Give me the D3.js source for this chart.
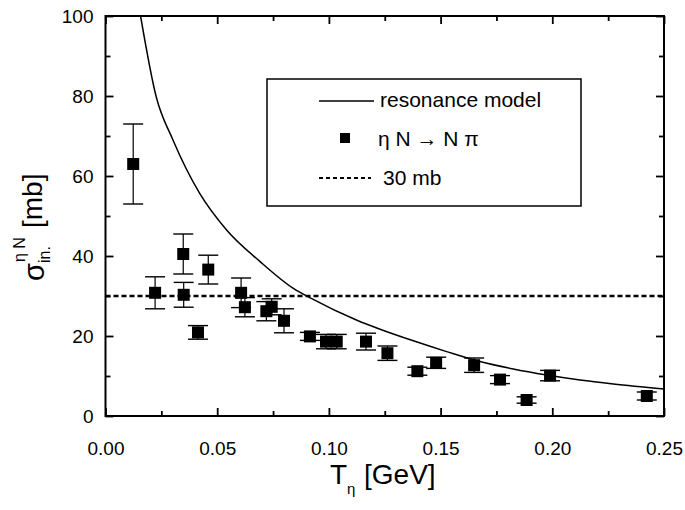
<!DOCTYPE html>
<html>
<head>
<meta charset="utf-8">
<script src="https://cdn.jsdelivr.net/npm/d3@7"></script>
<style>
  body { margin: 0; background: #fff; }
  svg { display: block; font-family: "Liberation Sans", Arial, sans-serif; }
  .axis .domain { display: none; }
  .axis line { stroke: #000; stroke-width: 1.8; }
  .axis text { font-size: 19px; fill: #000; }
</style>
</head>
<body>
<svg id="chart" width="685" height="510"></svg>
<script>
// eta N -> N pi data points (T in GeV, sigma in mb, error in mb)
const tData = [0.0124, 0.0222, 0.0348, 0.0350, 0.0414, 0.0460, 0.0607, 0.0624, 0.0720, 0.0744,
               0.0799, 0.0915, 0.0987, 0.1035, 0.1166, 0.1262, 0.1396, 0.1480, 0.1650, 0.1766,
               0.1885, 0.1990, 0.2423];
const sigmaData = [63.0, 30.8, 40.5, 30.3, 20.9, 36.6, 30.8, 27.2, 26.2, 27.3,
                   23.8, 19.9, 18.6, 18.6, 18.6, 15.7, 11.2, 13.3, 12.7, 9.1,
                   4.0, 10.1, 5.0];
const errData = [10.0, 4.0, 5.0, 3.1, 1.7, 3.6, 3.7, 2.4, 2.4, 2.0,
                 3.0, 1.0, 1.8, 1.8, 2.1, 1.8, 1.0, 1.4, 1.8, 1.0,
                 0.8, 1.3, 1.0];

// resonance model curve
const modelT = [0.0157, 0.0227, 0.0302, 0.0421, 0.0542, 0.0692, 0.0841, 0.0921, 0.1123, 0.1229,
                0.1378, 0.1527, 0.1676, 0.1825, 0.1975, 0.2124, 0.2273, 0.25];
const modelSigma = [100, 79.8, 69, 55.7, 46.5, 38.6, 31.9, 29.4, 24, 21.7,
                    18.8, 16.1, 13.6, 11.75, 10.25, 9, 8, 6.75];

const constLevel = 30;

const xMajor = [0, 0.05, 0.10, 0.15, 0.20, 0.25];
const xMinor = [0.025, 0.075, 0.125, 0.175, 0.225];
const yMajor = [0, 20, 40, 60, 80, 100];
const yMinor = [10, 30, 50, 70, 90];

(function() {
    const svg = d3.select('#chart');
    const pLeft = 105.5, pRight = 664, pTop = 16, pBottom = 416;

    const x = d3.scaleLinear().domain([0, 0.25]).range([pLeft, pRight]);
    const y = d3.scaleLinear().domain([0, 100]).range([pBottom, pTop]);

    // ticks (inward) on all four sides
    function addAxis(axis, tx, ty) {
        return svg.append('g').attr('class', 'axis')
            .attr('transform', 'translate(' + tx + ',' + ty + ')').call(axis);
    }
    addAxis(d3.axisBottom(x).tickValues(xMajor).tickSize(-8).tickPadding(26).tickFormat(d3.format('.2f')), 0, pBottom);
    addAxis(d3.axisBottom(x).tickValues(xMinor).tickSize(-5).tickFormat(''), 0, pBottom);
    addAxis(d3.axisTop(x).tickValues(xMajor).tickSize(-8).tickFormat(''), 0, pTop);
    addAxis(d3.axisTop(x).tickValues(xMinor).tickSize(-5).tickFormat(''), 0, pTop);
    addAxis(d3.axisLeft(y).tickValues(yMajor).tickSize(-8).tickPadding(12).tickFormat(d3.format('d')), pLeft, 0);
    addAxis(d3.axisLeft(y).tickValues(yMinor).tickSize(-5).tickFormat(''), pLeft, 0);
    addAxis(d3.axisRight(y).tickValues(yMajor).tickSize(-8).tickFormat(''), pRight, 0);
    addAxis(d3.axisRight(y).tickValues(yMinor).tickSize(-5).tickFormat(''), pRight, 0);

    svg.append('defs').append('clipPath').attr('id', 'clip')
        .append('rect').attr('x', pLeft).attr('y', pTop).attr('width', pRight - pLeft).attr('height', pBottom - pTop);

    const plot = svg.append('g').attr('clip-path', 'url(#clip)');

    // 30 mb line
    plot.append('line')
        .attr('x1', x(0)).attr('x2', x(0.25))
        .attr('y1', y(constLevel)).attr('y2', y(constLevel))
        .attr('stroke', '#000').attr('stroke-width', 2.6).attr('stroke-dasharray', '5,3');

    // resonance model
    const modelPts = modelT.map((t, i) => [t, modelSigma[i]]);
    plot.append('path')
        .datum(modelPts)
        .attr('fill', 'none').attr('stroke', '#000').attr('stroke-width', 1.5)
        .attr('d', d3.line().x(d => x(d[0])).y(d => y(d[1])).curve(d3.curveMonotoneX));

    // data points with error bars
    const pts = tData.map((t, i) => ({ t, s: sigmaData[i], e: errData[i] }));
    const cap = 10, half = 6;
    const pg = svg.append('g').selectAll('g').data(pts).enter().append('g');
    pg.append('line')
        .attr('x1', d => x(d.t)).attr('x2', d => x(d.t))
        .attr('y1', d => y(d.s + d.e)).attr('y2', d => y(d.s - d.e))
        .attr('stroke', '#000').attr('stroke-width', 1.2);
    pg.selectAll('.cap').data(d => [[d.t, d.s + d.e], [d.t, d.s - d.e]]).enter().append('line')
        .attr('class', 'cap')
        .attr('x1', d => x(d[0]) - cap).attr('x2', d => x(d[0]) + cap)
        .attr('y1', d => y(d[1])).attr('y2', d => y(d[1]))
        .attr('stroke', '#000').attr('stroke-width', 1.4);
    pg.append('rect')
        .attr('x', d => x(d.t) - half).attr('y', d => y(d.s) - half)
        .attr('width', half * 2).attr('height', half * 2)
        .attr('fill', '#000');

    // frame
    svg.append('rect')
        .attr('x', pLeft).attr('y', pTop).attr('width', pRight - pLeft).attr('height', pBottom - pTop)
        .attr('fill', 'none').attr('stroke', '#000').attr('stroke-width', 2);

    // legend
    const lg = svg.append('g');
    lg.append('rect').attr('x', 267).attr('y', 79).attr('width', 314).attr('height', 127)
        .attr('fill', '#fff').attr('stroke', '#000').attr('stroke-width', 1.5);
    lg.append('line').attr('x1', 319).attr('x2', 374).attr('y1', 101).attr('y2', 101)
        .attr('stroke', '#000').attr('stroke-width', 1.3);
    lg.append('text').attr('x', 380).attr('y', 107).attr('font-size', 21).text('resonance model');
    lg.append('rect').attr('x', 340).attr('y', 133).attr('width', 10).attr('height', 10).attr('fill', '#000');
    lg.append('text').attr('x', 378).attr('y', 146).attr('font-size', 21).text('η N → N π');
    lg.append('line').attr('x1', 319).attr('x2', 371).attr('y1', 178).attr('y2', 178)
        .attr('stroke', '#000').attr('stroke-width', 2.2).attr('stroke-dasharray', '4,3');
    lg.append('text').attr('x', 383).attr('y', 185).attr('font-size', 21).text('30 mb');

    // x axis title
    const xt = svg.append('g');
    xt.append('text').attr('x', 330).attr('y', 484).attr('font-size', 28).text('T');
    xt.append('text').attr('x', 347).attr('y', 494).attr('font-size', 15).text('η');
    xt.append('text').attr('x', 364).attr('y', 484).attr('font-size', 28).text('[GeV]');

    // y axis title (rotated)
    const yt = svg.append('g').attr('transform', 'translate(44,0) rotate(-90)');
    yt.append('text').attr('x', -281).attr('y', 0).attr('font-size', 29).text('σ');
    yt.append('text').attr('x', -263).attr('y', 6).attr('font-size', 16).text('in.');
    yt.append('text').attr('x', -262).attr('y', -19).attr('font-size', 16).text('η N');
    yt.append('text').attr('x', -228).attr('y', -2).attr('font-size', 28).text('[mb]');
})();
</script>
</body>
</html>
